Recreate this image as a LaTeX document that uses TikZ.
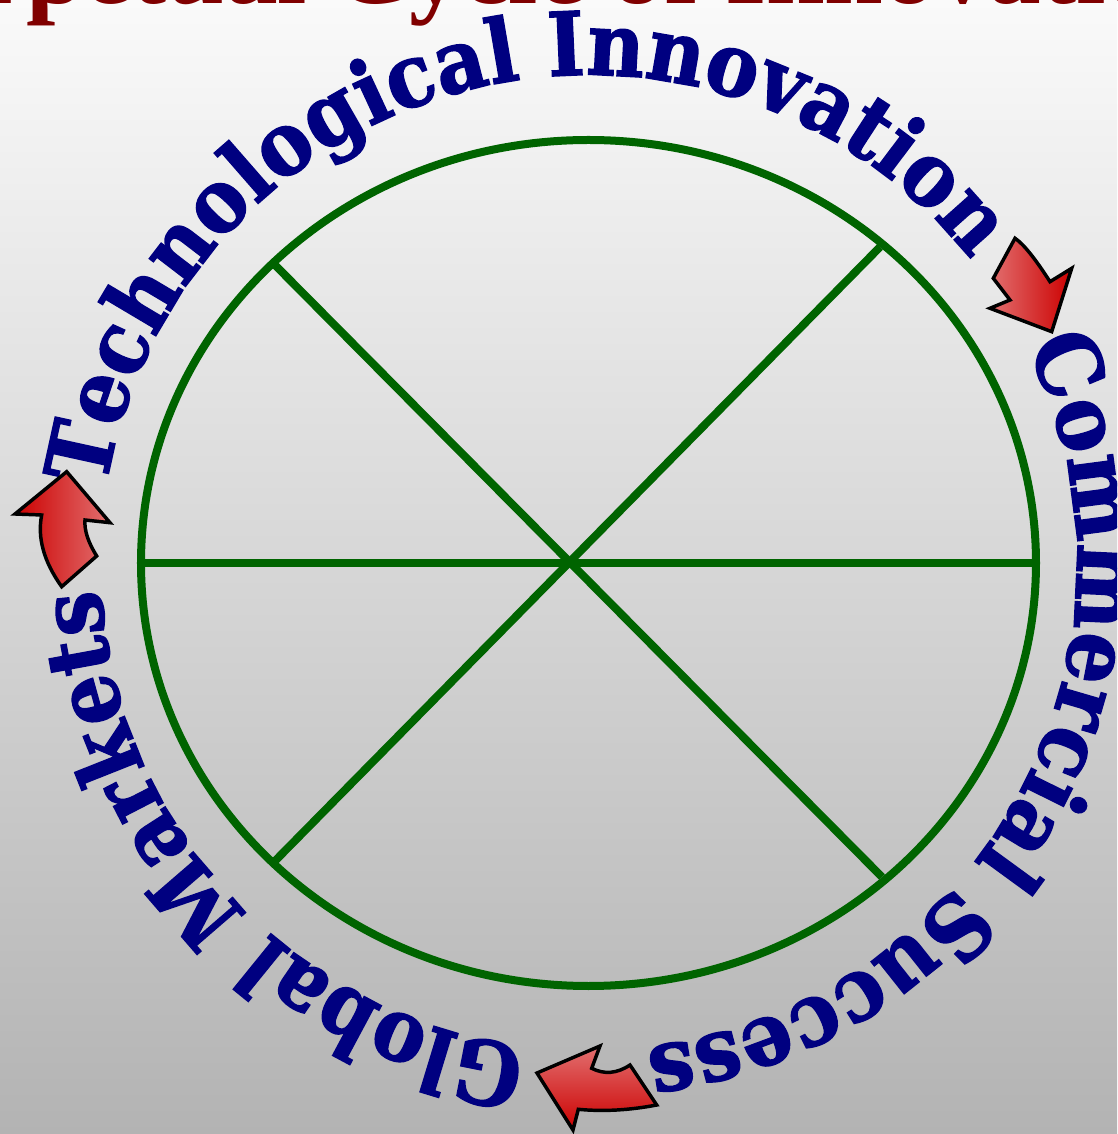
\documentclass[tikz,border=0pt]{standalone}
\usepackage{fontspec}
\usetikzlibrary{decorations.text}
\newfontfamily\arcfontA[FakeStretch=0.90,FakeBold=1.6]{DejaVu Serif}
\newfontfamily\arcfontB[FakeStretch=0.92,FakeBold=1.6]{DejaVu Serif}
\newfontfamily\arcfontC[FakeStretch=0.895,FakeBold=1.6]{DejaVu Serif}
\newfontfamily\titlefont{Liberation Serif}
\definecolor{navytext}{HTML}{000080}
\definecolor{titlered}{HTML}{800000}
\definecolor{ringgreen}{HTML}{006400}
\definecolor{bgtop}{HTML}{FAFAFA}
\definecolor{bgbot}{HTML}{B3B3B3}
\definecolor{arrowdark}{HTML}{CC0000}
\definecolor{arrowlight}{HTML}{E27070}
\begin{document}
\begin{tikzpicture}[x=0.75pt,y=0.75pt,
  ring/.style={draw=ringgreen, line width=6pt},
  spoke/.style={draw=ringgreen, line width=6pt},
  cyclearrow/.style={draw=black, line width=2.6pt, line join=miter},
  arctext/.style={decorate, decoration={text along path, text align=center, text color=navytext}}]
\fill[top color=bgtop, bottom color=bgbot] (-588.5,-571) rectangle (528.5,563);
\clip (-588.5,-571) rectangle (528.5,563);
\node[anchor=base, text=titlered, inner sep=0pt, font=\titlefont\bfseries\fontsize{79}{79}\selectfont] (title) at (-45.8,559) {Perpetual Cycle of Innovation};
\coordinate (ctr) at (0,0);
\coordinate (lft) at (-447.5,0);
\coordinate (rgt) at (447.5,0);
\coordinate (tl) at (-315.5,300);
\coordinate (br) at (293.5,-314);
\coordinate (tr) at (291.5,316);
\coordinate (bl) at (-315.5,-300);
\draw[ring] (ctr) ellipse [x radius=447.5, y radius=423];
\draw[spoke] (lft) -- (rgt);
\draw[spoke] (tl) -- (br);
\draw[spoke] (tr) -- (bl);
\path[arctext, decoration={text={|\arcfontA\bfseries\fontsize{66}{66}\selectfont|Technological Innovation}}] (204.75:488) arc[start angle=204.75, end angle=4.75, radius=488];
\path[arctext, decoration={text={|\arcfontB\bfseries\fontsize{66}{66}\selectfont|Commercial Success}}] (71.5:488) arc[start angle=71.5, end angle=-128.5, radius=488];
\path[arctext, decoration={text={|\arcfontC\bfseries\fontsize{66}{66}\selectfont|Global Markets}}] (-37.1:488) arc[start angle=-37.1, end angle=-237.1, radius=488];
\draw[cyclearrow, left color=arrowlight, right color=arrowdark] (463.2,231.3) -- (401.5,254.7) -- (421.5,263) -- (404.8,284.7) -- (426.5,324.7) .. controls (434.8,319.2) and (446.5,304.7) .. (461.5,281.3) -- (483.2,294.7) -- cycle;
\draw[cyclearrow, top color=arrowlight, bottom color=arrowdark] (-51.5,-510) -- (11.5,-483) -- (3.2,-505.3) .. controls (15.8,-511.7) and (28.5,-510.6) .. (41.5,-502) -- (68.2,-542) .. controls (41,-547.2) and (14.9,-548.7) .. (-10.2,-546.3) -- (-15.5,-567) -- cycle;
\draw[cyclearrow, left color=arrowdark, right color=arrowlight] (-521.8,91.3) -- (-478.5,40.3) -- (-503.5,43) .. controls (-504.3,32.7) and (-500.4,20.7) .. (-491.8,7) -- (-526.8,-23.7) .. controls (-544.7,1.3) and (-551.3,25.2) .. (-546.8,48) -- (-573.5,49) -- cycle;
\end{tikzpicture}
\end{document}
